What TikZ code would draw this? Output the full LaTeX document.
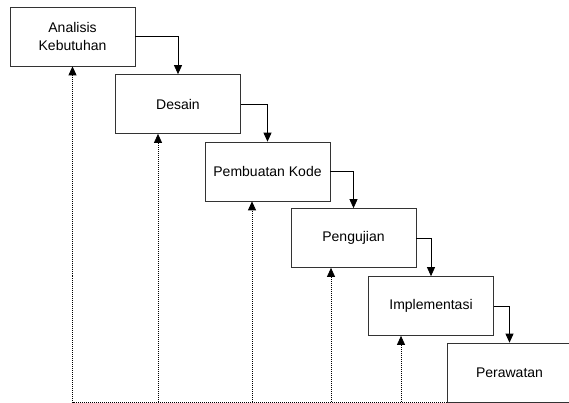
\documentclass[tikz,border=0pt]{standalone}
\usepackage{fontspec}
\setmainfont{Liberation Sans}
\usetikzlibrary{arrows.meta}

\tikzset{
  tahap/.style={draw=black!80, line width=0.7pt, minimum width=125pt, minimum height=59pt,
    inner sep=2pt, align=center, font=\fontsize{14}{18}\selectfont},
  alir/.style={-{Triangle[width=8pt,length=9pt]}, line width=0.8pt},
  balik/.style={-{Triangle[width=8pt,length=9pt]}, dash pattern=on 1pt off 1pt, line width=0.8pt},
}

\begin{document}
\begin{tikzpicture}[x=1pt,y=-1pt]
  \useasboundingbox (0,0) rectangle (569,403);

  \node[tahap] (ak) at (72.5,36.5) {Analisis\\Kebutuhan};
  \node[tahap] (ds) at (178,104) {Desain};
  \node[tahap] (pk) at (267.5,171.5) {Pembuatan Kode};
  \node[tahap] (pg) at (353.5,238) {Pengujian};
  \node[tahap] (im) at (431,306) {Implementasi};
  \node[tahap] (pr) at (509.5,372.5) {Perawatan};

  % alur turun
  \draw[alir] (ak) -| (ds);
  \draw[alir] (ds) -| (pk);
  \draw[alir] (pk) -| (pg);
  \draw[alir] (pg) -| (im);
  \draw[alir] (im) -| (pr);

  % umpan balik
  \draw[balik] (pr.south west) -| (ak);
  \coordinate (u2) at (158,402);
  \coordinate (u3) at (252,402);
  \coordinate (u4) at (331,402);
  \coordinate (u5) at (401,402);
  \draw[balik] (u2) -- (u2 |- ds.south);
  \draw[balik] (u3) -- (u3 |- pk.south);
  \draw[balik] (u4) -- (u4 |- pg.south);
  \draw[balik] (u5) -- (u5 |- im.south);
\end{tikzpicture}
\end{document}
